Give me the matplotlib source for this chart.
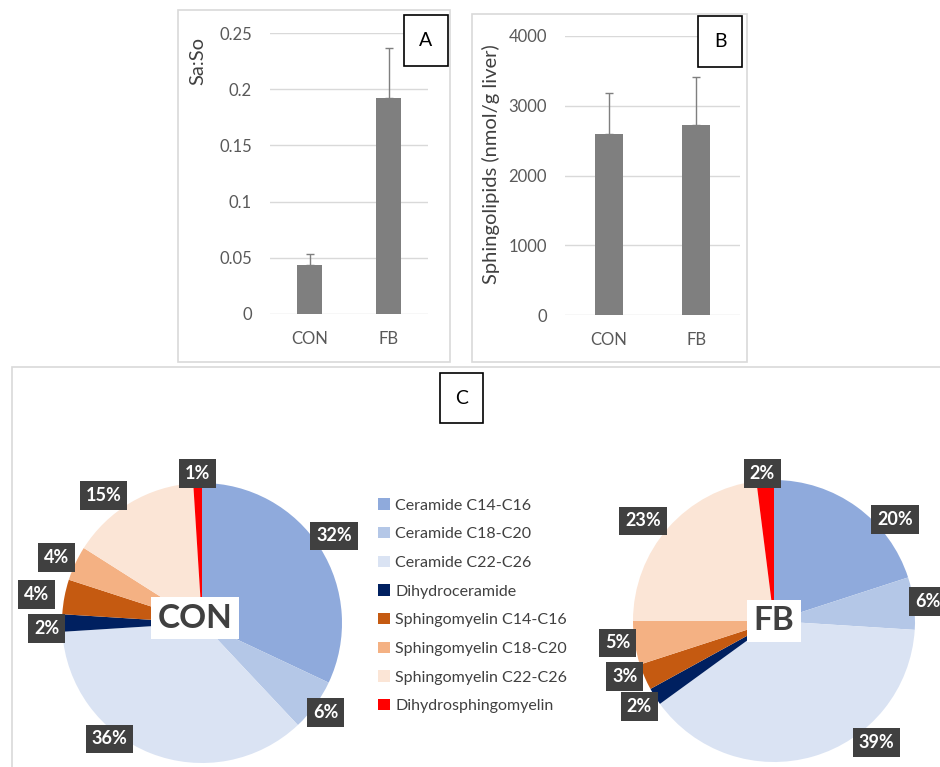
import numpy as np
import matplotlib.pyplot as plt
from matplotlib.patches import Rectangle

plt.rcParams['font.family'] = ['Lato', 'DejaVu Sans']

groups = ['CON', 'FB']

# panel A - Sa:So ratio
saso_mean = [0.044, 0.192]
saso_err = [0.009, 0.045]

# panel B - total sphingolipids
sphingo_mean = [2595, 2728]
sphingo_err = [583, 689]

# panel C - composition (%)
species = ['Ceramide C14-C16', 'Ceramide C18-C20', 'Ceramide C22-C26',
           'Dihydroceramide', 'Sphingomyelin C14-C16', 'Sphingomyelin C18-C20',
           'Sphingomyelin C22-C26', 'Dihydrosphingomyelin']
con_pct = [32, 6, 36, 2, 4, 4, 15, 1]
fb_pct = [20, 6, 39, 2, 3, 5, 23, 2]
colors = ['#8faadc', '#b4c7e7', '#dae3f3', '#002060',
          '#c55a11', '#f4b183', '#fbe5d6', '#ff0000']

# excel "best fit" label placement: angle nudge (deg) and radius factor per slice
con_nudge = [1, 0, -17, 2, 1, 1, 7, 0]
con_rad = [1.13, 1.09, 1.06, 1.11, 1.2, 1.14, 1.15, 1.07]
fb_nudge = [-14, 0, 24, 0, -3, -1, 4, 1]
fb_rad = [1.12, 1.1, 1.13, 1.13, 1.13, 1.12, 1.17, 1.05]

W, H = 940, 767
fig = plt.figure(figsize=(W / 100, H / 100), dpi=100)


def box(x0, y0, x1, y1):
    # pixel box (top-left origin) -> figure fraction rect
    return [x0 / W, 1 - y1 / H, (x1 - x0) / W, (y1 - y0) / H]


def frame(x0, y0, x1, y1, color='#d9d9d9', lw=1.2):
    l, b, w, h = box(x0, y0, x1, y1)
    fig.patches.append(Rectangle((l, b), w, h, transform=fig.transFigure,
                                 fill=False, edgecolor=color, linewidth=lw))


def letter(x0, y0, x1, y1, s):
    l, b, w, h = box(x0, y0, x1, y1)
    fig.patches.append(Rectangle((l, b), w, h, transform=fig.transFigure,
                                 facecolor='white', edgecolor='black', linewidth=1.2, zorder=5))
    fig.text(l + w / 2, b + h / 2, s, ha='center', va='center', fontsize=14,
             color='black', zorder=6)


# outer frames
frame(178, 10, 450, 362)
frame(472, 14, 747, 362)
frame(12, 367, 960, 790)


def bar_panel(rect, mean, err, ymax, step, ylabel, lab_xy, fmt):
    ax = fig.add_axes(rect)
    x = range(len(groups))
    ax.bar(x, mean, width=0.32, color='#7f7f7f', zorder=3)
    ax.errorbar(x, mean, yerr=[[0] * len(err), err], fmt='none', ecolor='#7f7f7f',
                elinewidth=1, capsize=3, capthick=1, zorder=4)
    ax.set_xlim(-0.5, 1.5)
    ax.set_ylim(0, ymax)
    ticks = [i * step for i in range(int(round(ymax / step)) + 1)]
    ax.set_yticks(ticks)
    ax.set_yticklabels([fmt(t) for t in ticks])
    ax.set_xticks(list(x))
    ax.set_xticklabels(groups)
    ax.grid(axis='y', color='#d9d9d9', linewidth=1, zorder=0)
    for s in ax.spines.values():
        s.set_visible(False)
    ax.tick_params(length=0, labelsize=12, labelcolor='#595959')
    ax.tick_params(axis='y', pad=13)
    ax.tick_params(axis='x', pad=12)
    ax.set_ylabel(ylabel, fontsize=14.5, color='#404040')
    ax.yaxis.set_label_coords(*lab_xy)
    ax.patch.set_alpha(0)
    return ax


bar_panel(box(270, 33, 428, 314), saso_mean, saso_err, 0.25, 0.05, 'Sa:So',
          (-0.40, 0.90), lambda t: '0' if t == 0 else f'{t:g}')
bar_panel(box(565, 36, 740, 315), sphingo_mean, sphingo_err, 4000, 1000,
          'Sphingolipids (nmol/g liver)', (-0.37, 0.54), lambda t: f'{t:.0f}')

letter(404, 15, 448, 66, 'A')
letter(698, 16, 742, 67, 'B')
letter(440, 373, 483, 423, 'C')


def pie_panel(cx, cy, r, pct, name, name_xy, nudge, rad):
    half = 1.3 * r
    ax = fig.add_axes(box(cx - half, cy - half, cx + half, cy + half))
    wedges, _ = ax.pie(pct, colors=colors, startangle=90, counterclock=False,
                       wedgeprops=dict(linewidth=0))
    for w, p, dn, rf in zip(wedges, pct, nudge, rad):
        ang = np.deg2rad((w.theta1 + w.theta2) / 2 + dn)
        ax.text(rf * np.cos(ang), rf * np.sin(ang), f'{p:.0f}%', ha='center', va='center',
                color='white', fontsize=13, fontweight='bold',
                bbox=dict(boxstyle='square,pad=0.32', facecolor='#404040', edgecolor='none'))
    ax.set_xlim(-1.3, 1.3)
    ax.set_ylim(-1.3, 1.3)
    ax.set_aspect('equal')
    ax.axis('off')
    fig.text(name_xy[0] / W, 1 - name_xy[1] / H, name, ha='center', va='center',
             fontsize=24, fontweight='bold', color='#404040',
             bbox=dict(boxstyle='square,pad=0.2', facecolor='white', edgecolor='none'))
    return wedges


pie_panel(202, 623, 140, con_pct, 'CON', (195, 618), con_nudge, con_rad)
pie_panel(774, 621, 141, fb_pct, 'FB', (774, 621), fb_nudge, fb_rad)

handles = [Rectangle((0, 0), 1, 1, facecolor=c, edgecolor='none') for c in colors]
fig.legend(handles, species, loc='upper left', bbox_to_anchor=(372 / W, 1 - 492 / H),
           frameon=False, fontsize=11.5, labelcolor='#404040', handlelength=0.72,
           handleheight=0.72, handletextpad=0.35, labelspacing=0.9, borderaxespad=0)

fig.savefig('out.png', dpi=100)
